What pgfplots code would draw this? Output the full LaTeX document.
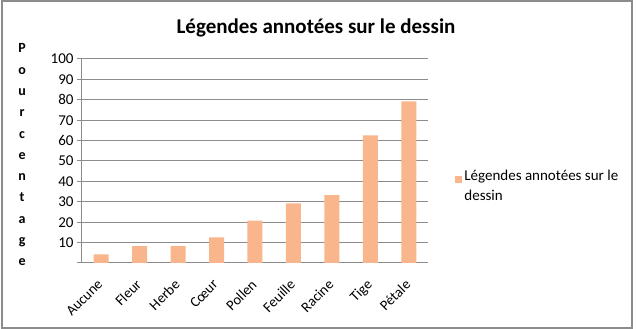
\documentclass[border=0pt]{standalone}
\usepackage{pgfplots}
\pgfplotsset{compat=1.18}
\usepackage{fontspec}
\setmainfont{Carlito}
\definecolor{barc}{RGB}{249,181,140}
\definecolor{gridc}{RGB}{140,140,140}
\begin{document}
\begin{tikzpicture}[x=1pt,y=1pt]
\useasboundingbox (-82,-66) rectangle (555,263);
\draw[gridc, line width=1.5pt] (-80,262) rectangle (550,-65);
\begin{axis}[
  at={(0,0)}, anchor=south west,
  scale only axis, width=346pt, height=204pt,
  ybar, bar width=15pt,
  xmin=-0.5, xmax=8.5, ymin=0, ymax=100,
  xtick=data,
  xticklabels={Aucune,Fleur,Herbe,C\oe ur,Pollen,Feuille,Racine,Tige,Pétale},
  xticklabel style={xshift=-4.5pt, yshift=-9pt, rotate=45, anchor=north east, font=\fontsize{14.5}{16}\selectfont, inner sep=1pt},
  ytick={0,10,...,100},
  yticklabels={,10,20,30,40,50,60,70,80,90,100},
  yticklabel style={font=\fontsize{15}{16}\selectfont},
  /pgf/number format/assume math mode=true,
  major x tick style={draw=none},
  major y tick style={gridc, line width=1pt},
  tick align=outside, major tick length=5pt,
  ymajorgrids, grid style={gridc, line width=1pt},
  axis x line*=bottom, axis y line*=left,
  axis line style={gridc, line width=1pt, -},
  ylabel={P\\o\\u\\r\\c\\e\\n\\t\\a\\g\\e},
  ylabel style={rotate=-90, align=center, anchor=center,
    at={(axis description cs:-0.173,0.53)},
    font=\bfseries\fontsize{14}{21.3}\selectfont},
  legend style={at={(axis description cs:1.07,0.377)}, anchor=west,
    draw=none, fill=none, font=\fontsize{15}{20}\selectfont,
    cells={align=left}},
  legend image code/.code={\fill[barc] (0pt,3pt) rectangle (7pt,10pt);},
]
\addplot[fill=barc, draw=none] coordinates {
(0,4.17) (1,8.33) (2,8.33) (3,12.5) (4,20.83) (5,29.17) (6,33.33) (7,62.5) (8,79.17)};
\addlegendentry{Légendes annotées sur le\\dessin}
\end{axis}
\node[font=\bfseries\fontsize{21}{23}\selectfont] at (234,235) {Légendes annotées sur le dessin};
\end{tikzpicture}
\end{document}
